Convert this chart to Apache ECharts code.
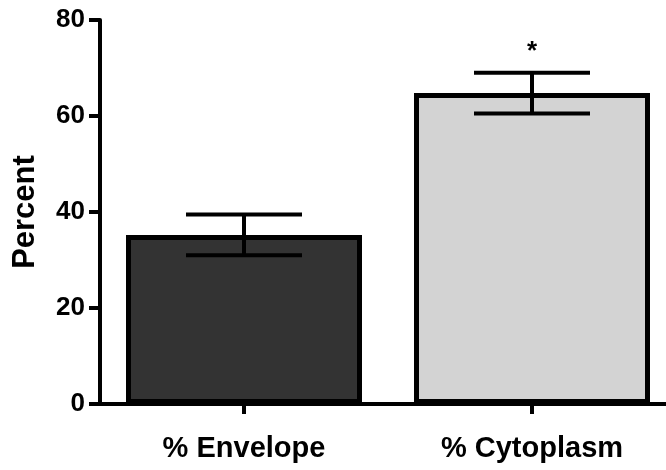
<!DOCTYPE html>
<html>
<head>
<meta charset="utf-8">
<script src="https://cdn.jsdelivr.net/npm/echarts@6/dist/echarts.min.js"></script>
<style>html,body{margin:0;padding:0;background:#fff}#c{width:666px;height:470px}</style>
</head>
<body>
<div id="c"></div>
<script>
const categories = ['% Envelope', '% Cytoplasm'];
const means = [35.2, 64.8];
const errLow = [31.0, 60.5];
const errHigh = [39.5, 69.0];
const marks = ['', '*'];
const yTicks = [0, 20, 40, 60, 80];
const barColors = ['#333333', '#d3d3d3'];

const FONT = '"Liberation Sans", Arial, sans-serif';
const chart = echarts.init(document.getElementById('c'), null, {renderer: 'canvas'});
chart.setOption({
  animation: false,
  grid: {left: 100, top: 20, width: 576, height: 384, containLabel: false, outerBoundsMode: 'none'},
  xAxis: {
    type: 'category',
    data: categories,
    axisLine: {lineStyle: {color: '#000', width: 4}},
    axisTick: {show: true, length: 10, lineStyle: {color: '#000', width: 4}, alignWithLabel: true},
    axisLabel: {color: '#000', fontFamily: FONT, fontWeight: 'bold', fontSize: 29, margin: 30}
  },
  yAxis: {
    type: 'value',
    min: yTicks[0], max: yTicks[yTicks.length - 1], interval: 20,
    name: 'Percent',
    nameLocation: 'middle',
    nameGap: 59,
    nameTextStyle: {color: '#000', fontFamily: FONT, fontWeight: 'bold', fontSize: 31},
    splitLine: {show: false},
    axisLine: {show: true, lineStyle: {color: '#000', width: 4}},
    axisTick: {show: true, length: 11, lineStyle: {color: '#000', width: 4}},
    axisLabel: {color: '#000', fontFamily: FONT, fontWeight: 'bold', fontSize: 26, margin: 15}
  },
  series: [
    {
      type: 'bar',
      barWidth: 236,
      data: means.map((v, i) => ({value: v, itemStyle: {color: barColors[i]}})),
      itemStyle: {borderColor: '#000', borderWidth: 5},
      z: 2
    },
    {
      type: 'custom',
      z: 3,
      data: categories.map((c, i) => [i, errLow[i], errHigh[i], marks[i]]),
      renderItem: function (params, api) {
        const x = api.value(0);
        const lo = api.coord([x, api.value(1)]);
        const hi = api.coord([x, api.value(2)]);
        const half = 58;
        const style = {stroke: '#000', lineWidth: 4};
        const children = [
          {type: 'line', shape: {x1: lo[0], y1: lo[1], x2: hi[0], y2: hi[1]}, style: style},
          {type: 'line', shape: {x1: hi[0] - half, y1: hi[1], x2: hi[0] + half, y2: hi[1]}, style: style},
          {type: 'line', shape: {x1: lo[0] - half, y1: lo[1], x2: lo[0] + half, y2: lo[1]}, style: style}
        ];
        const m = marks[params.dataIndex];
        if (m) {
          children.push({type: 'text', x: hi[0], y: hi[1] - 8,
            style: {text: m, fill: '#000', font: 'bold 26px ' + FONT, align: 'center', verticalAlign: 'bottom'}});
        }
        return {type: 'group', children: children};
      }
    }
  ]
});
</script>
</body>
</html>
